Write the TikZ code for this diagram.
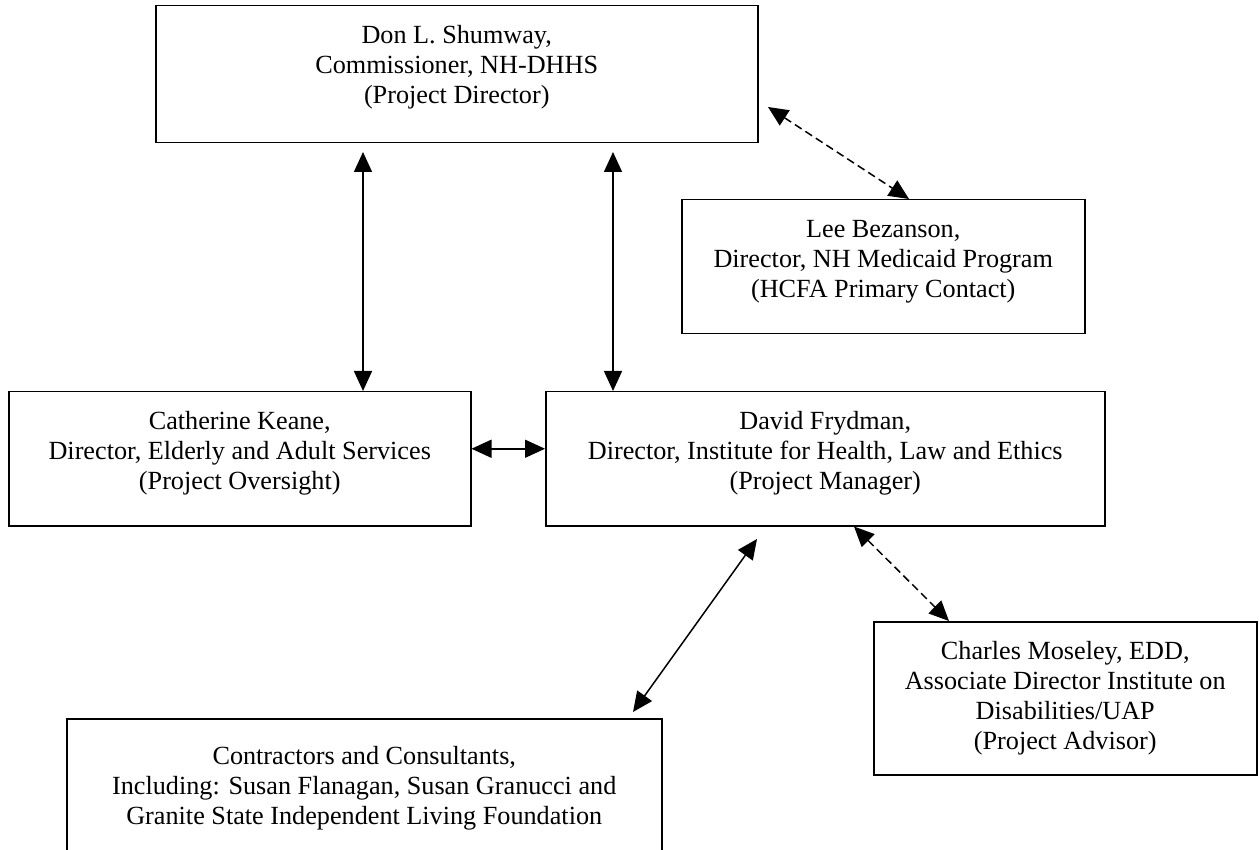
\documentclass[tikz,border=0pt]{standalone}
\usepackage{fontspec}
\setmainfont{Liberation Serif}
\usetikzlibrary{arrows.meta,calc}
\newcommand{\boxtext}[4][17pt]{\parbox[c][#3][t]{#2}{\centering\vspace*{#1}\strut #4}}
\begin{document}
\begin{tikzpicture}[x=1pt,y=-1pt,
  orgbox/.style={draw, line width=1.5pt, inner sep=0pt, anchor=north west,
    font=\fontsize{26.2}{30}\selectfont},
  link/.style={line width=1.5pt,
    {Triangle[length=20pt,width=18pt]}-{Triangle[length=20pt,width=18pt]}},
  dashlink/.style={link, dash pattern=on 8pt off 4.5pt}]
\useasboundingbox[fill=white] (0,0) rectangle (1259,850);

\node[orgbox] (top) at (155,5)
  {\boxtext{602pt}{137pt}{Don L. Shumway,\\ Commissioner, NH-DHHS\\ (Project Director)}};
\node[orgbox] (lee) at (681,199)
  {\boxtext{403pt}{134pt}{Lee Bezanson,\\ Director, NH Medicaid Program\\ (HCFA Primary Contact)}};
\node[orgbox] (cath) at (8,391)
  {\boxtext{462pt}{134pt}{Catherine Keane,\\ Director, Elderly and Adult Services\\ (Project Oversight)}};
\node[orgbox] (david) at (545,391)
  {\boxtext{559pt}{134pt}{David Frydman,\\ Director, Institute for Health, Law and Ethics\\ (Project Manager)}};
\node[orgbox] (charles) at (873,621)
  {\boxtext{383pt}{153pt}{Charles Moseley, EDD,\\ Associate Director Institute on\\ Disabilities/UAP\\ (Project Advisor)}};
\node[orgbox] (contr) at (66,718)
  {\boxtext[25pt]{595pt}{134pt}{Contractors and Consultants,\\ Including: Susan Flanagan, Susan Granucci and\\ Granite State Independent Living Foundation}};

\coordinate (p1) at (363,152);
\coordinate (p2) at (613,152);
\coordinate (p3) at (768,107);
\coordinate (p5a) at (757,539);
\coordinate (p5b) at (633,712);

\draw[link] (p1) -- (p1 |- cath.north);
\draw[link] (p2) -- (p2 |- david.north);
\draw[dashlink] (p3) -- ($(lee.north west)+(228,0)$);
\draw[link] ([yshift=10pt]cath.east) -- ([yshift=10pt]david.west);
\draw[link] (p5a) -- (p5b);
\draw[dashlink] ($(david.south west)+(309,0)$) -- ($(charles.north west)+(76,0)$);
\end{tikzpicture}
\end{document}
